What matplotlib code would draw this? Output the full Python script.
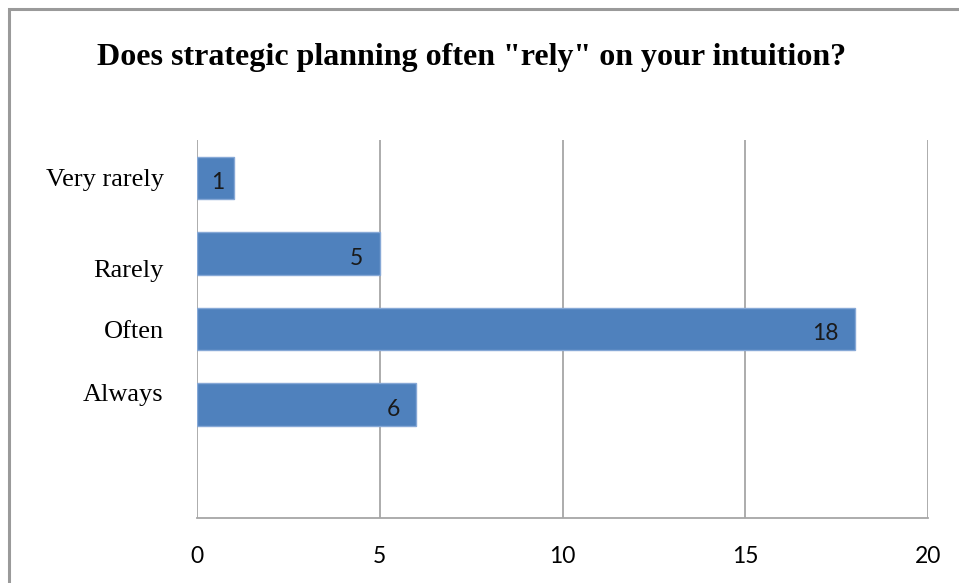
import matplotlib
matplotlib.use("Agg")
import matplotlib.pyplot as plt
from matplotlib.patches import Rectangle

# Survey responses
categories = ["Very rarely", "Rarely", "Often", "Always"]
counts = [1, 5, 18, 6]
x_ticks = [0, 5, 10, 15, 20]

title = 'Does strategic planning often "rely" on your intuition?'

W, H = 959, 583
fig = plt.figure(figsize=(W / 100, H / 100), dpi=100)

# outer chart frame
fig.patches.append(Rectangle((9 / W, -0.05), 1.2, 1 - 9 / H + 0.05,
                             transform=fig.transFigure, fill=False,
                             edgecolor="#9a9a9a", linewidth=2.2))

ax = fig.add_axes([197 / W, 1 - 518 / H, (928 - 197) / W, (518 - 140) / H])

bar_pos = [i + 0.5 for i in range(len(categories))]
ax.barh(bar_pos, counts, height=0.56, color="#4F81BD",
        edgecolor="#86A8D6", linewidth=1.0, zorder=3)

for y, v in zip(bar_pos, counts):
    if v < 2:
        # short bar: centre the value inside it
        ax.annotate(str(v), xy=(v / 2, y), xytext=(1.5, -3.5),
                    textcoords="offset points", ha="center", va="center",
                    fontsize=16.5, family="Lato", color="#1a1a1a", zorder=4)
    else:
        ax.annotate(str(v), xy=(v, y), xytext=(-12, -3.5),
                    textcoords="offset points", ha="right", va="center",
                    fontsize=16.5, family="Lato", color="#1a1a1a", zorder=4)

ax.set_xlim(0, 20)
ax.set_ylim(5, 0)
ax.set_xticks(x_ticks)
ax.set_xticklabels([str(t) for t in x_ticks], family="Lato", fontsize=16.5)
ax.tick_params(axis="x", length=0, pad=20)

# category labels sit at their own offsets along the axis
label_pos = [0.49, 1.70, 2.51, 3.34]
ax.set_yticks(label_pos)
ax.set_yticklabels(categories, family="Liberation Serif", fontsize=19)
ax.tick_params(axis="y", length=0, pad=24)

ax.grid(axis="x", color="#a6a6a6", linewidth=1.3, zorder=0)
for s in ["top", "right", "left"]:
    ax.spines[s].set_visible(False)
ax.spines["bottom"].set_color("#a6a6a6")
ax.spines["bottom"].set_linewidth(1.3)

fig.text(472 / W, 1 - 57 / H, title, ha="center", va="center",
         family="Liberation Serif", fontweight="bold", fontsize=23)

fig.savefig("out.png", dpi=100)
